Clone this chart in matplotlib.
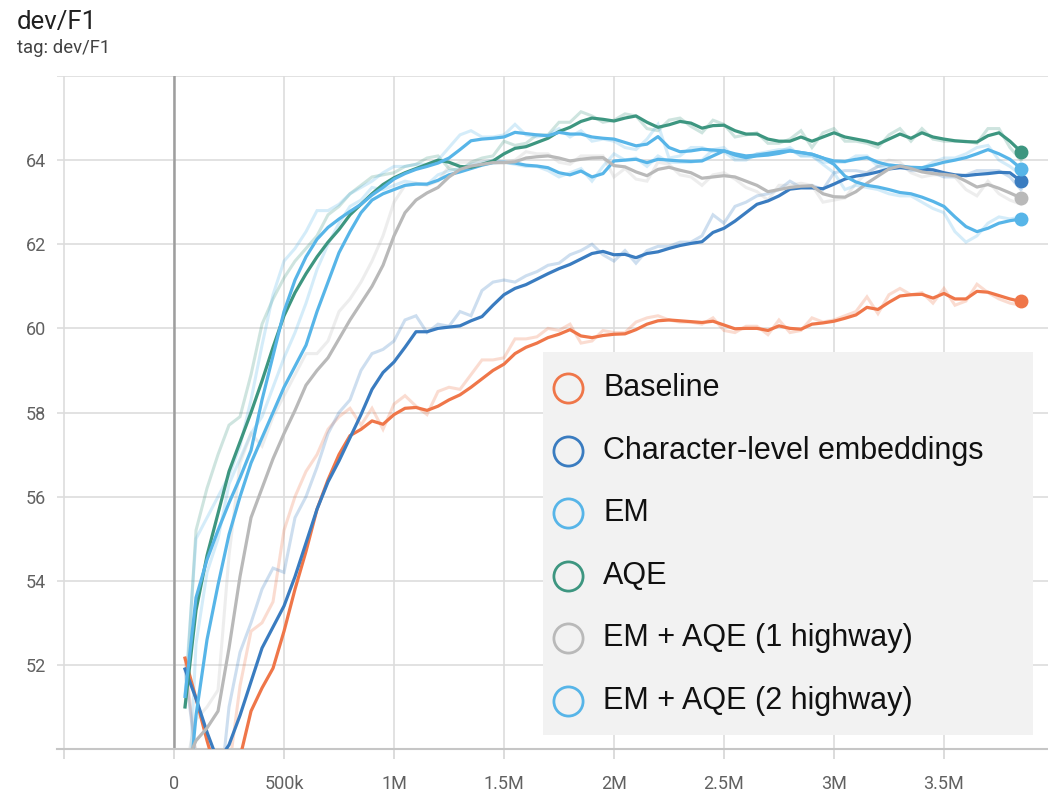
#!/usr/bin/env python3
import numpy as np
import matplotlib
matplotlib.use('Agg')
import matplotlib.pyplot as plt
from matplotlib.ticker import FuncFormatter

# %%
# training steps (every 50k) and dev/F1 values
steps = np.arange(50, 3851, 50) * 1000

baseline = [52.16, 51.2, 50.2, 49.3, 49.3, 49.8, 50.9, 51.45, 51.92, 52.8,
            53.8, 54.7, 55.7, 56.4, 57.0, 57.45, 57.6, 57.8, 57.72, 57.95,
            58.1, 58.12, 58.05, 58.15, 58.3, 58.42, 58.6, 58.8, 59.0, 59.15,
            59.4, 59.55, 59.65, 59.78, 59.86, 59.97, 59.82, 59.78, 59.83, 59.86,
            59.87, 59.97, 60.1, 60.18, 60.2, 60.18, 60.16, 60.14, 60.17, 60.08,
            59.99, 60.0, 60.0, 59.95, 60.06, 60.0, 59.98, 60.1, 60.13, 60.17,
            60.24, 60.32, 60.5, 60.45, 60.62, 60.77, 60.8, 60.81, 60.72, 60.83,
            60.7, 60.7, 60.88, 60.86, 60.78, 60.7, 60.64]
baseline_raw = [52.16, 49.8, 48.5, 47.8, 49.5, 51.5, 52.8, 53.0, 53.5, 55.2,
                56.0, 56.6, 57.0, 57.6, 57.9, 58.1, 57.7, 58.1, 57.6, 58.2,
                58.4, 58.15, 57.95, 58.5, 58.6, 58.55, 58.9, 59.25, 59.25, 59.3,
                59.75, 59.75, 59.8, 60.0, 59.95, 60.1, 59.65, 59.7, 59.95, 59.9,
                59.9, 60.15, 60.25, 60.3, 60.2, 60.15, 60.15, 60.1, 60.25, 59.95,
                59.9, 60.05, 60.05, 59.85, 60.2, 59.9, 59.95, 60.25, 60.15, 60.2,
                60.3, 60.4, 60.75, 60.35, 60.8, 60.95, 60.8, 60.85, 60.6, 60.95,
                60.55, 60.65, 61.05, 60.85, 60.7, 60.6, 60.55]

char_emb = [51.9, 51.2, 50.4, 49.7, 50.1, 50.8, 51.6, 52.4, 52.9, 53.4,
            54.1, 54.9, 55.7, 56.35, 56.85, 57.4, 57.95, 58.55, 58.95, 59.2,
            59.55, 59.92, 59.92, 60.0, 60.03, 60.06, 60.18, 60.28, 60.55, 60.8,
            60.95, 61.04, 61.17, 61.3, 61.42, 61.52, 61.65, 61.78, 61.83, 61.75,
            61.76, 61.68, 61.78, 61.82, 61.9, 61.97, 62.02, 62.06, 62.28, 62.38,
            62.55, 62.75, 62.95, 63.03, 63.15, 63.31, 63.34, 63.34, 63.32, 63.43,
            63.55, 63.62, 63.66, 63.72, 63.79, 63.82, 63.8, 63.78, 63.77, 63.7,
            63.65, 63.63, 63.66, 63.68, 63.71, 63.7, 63.5]
char_emb_raw = [51.9, 49.8, 48.8, 48.5, 51.0, 52.3, 53.0, 53.8, 54.3, 54.2,
                55.5, 56.0, 56.7, 57.5, 58.0, 58.3, 59.0, 59.4, 59.5, 59.7,
                60.2, 60.3, 59.9, 60.1, 60.05, 60.4, 60.3, 60.9, 61.1, 61.15,
                61.1, 61.25, 61.35, 61.5, 61.55, 61.75, 61.85, 62.0, 61.75, 61.6,
                61.85, 61.55, 61.85, 61.95, 61.95, 62.05, 62.05, 62.2, 62.7, 62.5,
                62.9, 63.0, 63.15, 63.2, 63.3, 63.5, 63.35, 63.4, 63.3, 63.7,
                63.75, 63.75, 63.7, 63.85, 63.9, 63.85, 63.75, 63.75, 63.7, 63.6,
                63.6, 63.65, 63.75, 63.75, 63.75, 63.6, 63.3]

em = [48.0, 50.8, 52.6, 53.9, 55.1, 56.0, 56.8, 57.4, 58.0, 58.6,
      59.1, 59.6, 60.4, 61.1, 61.8, 62.3, 62.75, 63.05, 63.2, 63.3,
      63.4, 63.43, 63.43, 63.52, 63.65, 63.72, 63.8, 63.88, 63.94, 63.95,
      63.93, 63.88, 63.86, 63.82, 63.7, 63.65, 63.74, 63.6, 63.68, 63.98,
      64.0, 64.02, 63.94, 64.02, 64.0, 63.98, 63.97, 63.98, 64.1, 64.22,
      64.15, 64.1, 64.12, 64.16, 64.2, 64.22, 64.18, 64.14, 64.05, 63.98,
      63.97, 64.02, 64.06, 63.95, 63.88, 63.86, 63.83, 63.82, 63.88, 63.95,
      64.0, 64.06, 64.15, 64.25, 64.15, 64.02, 63.8]
em_raw = [47.0, 52.5, 54.2, 55.0, 56.3, 56.9, 57.5, 57.9, 58.6, 59.3,
          59.9, 60.6, 61.4, 62.0, 62.5, 62.9, 63.05, 63.35, 63.3, 63.4,
          63.5, 63.45, 63.42, 63.65, 63.75, 63.8, 63.9, 63.95, 64.0, 63.95,
          63.9, 63.85, 63.85, 63.75, 63.6, 63.7, 63.8, 63.5, 63.85, 64.15,
          64.0, 64.05, 63.85, 64.1, 63.95, 63.95, 63.95, 64.0, 64.25, 64.3,
          64.05, 64.05, 64.15, 64.2, 64.25, 64.25, 64.1, 64.1, 63.95, 63.95,
          63.95, 64.1, 64.1, 63.85, 63.8, 63.85, 63.8, 63.8, 63.95, 64.05,
          64.05, 64.15, 64.3, 64.35, 64.0, 63.85, 63.65]

aqe = [51.0, 53.3, 54.6, 55.6, 56.6, 57.3, 58.0, 58.75, 59.55, 60.3,
       60.85, 61.3, 61.7, 62.05, 62.35, 62.7, 62.95, 63.2, 63.42, 63.58,
       63.7, 63.8, 63.9, 64.0, 63.95, 63.85, 63.83, 63.9, 63.98, 64.15,
       64.28, 64.32, 64.42, 64.52, 64.68, 64.78, 64.92, 65.0, 64.97, 64.93,
       65.0, 65.05, 64.9, 64.78, 64.84, 64.92, 64.88, 64.76, 64.82, 64.83,
       64.7, 64.62, 64.62, 64.5, 64.45, 64.45, 64.55, 64.45, 64.55, 64.65,
       64.55, 64.5, 64.45, 64.38, 64.5, 64.62, 64.52, 64.65, 64.55, 64.5,
       64.46, 64.44, 64.43, 64.58, 64.65, 64.45, 64.2]
aqe_raw = [51.0, 55.2, 56.2, 57.0, 57.7, 57.9, 58.9, 60.1, 60.7, 61.2,
           61.6, 61.9, 62.2, 62.7, 62.9, 63.2, 63.4, 63.6, 63.65, 63.7,
           63.85, 63.9, 64.05, 64.1, 63.8, 63.75, 63.95, 64.05, 64.1, 64.45,
           64.35, 64.4, 64.6, 64.6, 64.9, 64.9, 65.15, 65.05, 64.9, 64.95,
           65.1, 65.05, 64.75, 64.7, 64.95, 65.0, 64.8, 64.65, 64.95, 64.85,
           64.55, 64.6, 64.65, 64.4, 64.4, 64.5, 64.7, 64.3, 64.65, 64.75,
           64.45, 64.45, 64.4, 64.3, 64.6, 64.75, 64.45, 64.75, 64.5, 64.45,
           64.45, 64.45, 64.4, 64.75, 64.75, 64.3, 64.0]

em_aqe_1hw = [49.6, 50.2, 50.5, 50.9, 52.4, 54.1, 55.5, 56.2, 56.9, 57.5,
              58.05, 58.65, 59.0, 59.3, 59.75, 60.2, 60.6, 61.0, 61.5, 62.2,
              62.75, 63.05, 63.22, 63.35, 63.6, 63.78, 63.86, 63.9, 63.94, 63.94,
              63.96, 64.05, 64.08, 64.1, 64.05, 63.98, 64.02, 64.05, 64.06, 63.87,
              63.84, 63.72, 63.63, 63.78, 63.83, 63.76, 63.7, 63.57, 63.6, 63.63,
              63.6, 63.5, 63.4, 63.25, 63.3, 63.35, 63.38, 63.39, 63.2, 63.13,
              63.12, 63.25, 63.45, 63.62, 63.79, 63.86, 63.8, 63.72, 63.68, 63.66,
              63.63, 63.5, 63.36, 63.42, 63.33, 63.22, 63.1]
em_aqe_1hw_raw = [49.5, 50.7, 51.0, 51.4, 54.6, 56.8, 57.5, 57.2, 57.9, 58.4,
                  58.9, 59.4, 59.4, 59.7, 60.4, 60.7, 61.1, 61.6, 62.2, 63.0,
                  63.4, 63.45, 63.4, 63.5, 63.85, 63.95, 63.95, 63.95, 64.0, 63.95,
                  64.0, 64.2, 64.15, 64.15, 63.95, 63.9, 64.1, 64.1, 64.1, 63.6,
                  63.8, 63.55, 63.5, 63.95, 63.9, 63.65, 63.6, 63.4, 63.65, 63.7,
                  63.55, 63.35, 63.25, 63.05, 63.4, 63.4, 63.45, 63.4, 63.0, 63.05,
                  63.1, 63.45, 63.7, 63.85, 64.0, 63.95, 63.7, 63.6, 63.65, 63.65,
                  63.6, 63.3, 63.15, 63.5, 63.2, 63.05, 62.95]

em_aqe_2hw = [51.25, 53.6, 54.5, 55.2, 55.85, 56.45, 57.1, 58.3, 59.35, 60.4,
              61.15, 61.7, 62.12, 62.4, 62.6, 62.78, 62.95, 63.17, 63.35, 63.55,
              63.68, 63.78, 63.85, 63.93, 64.05, 64.25, 64.46, 64.5, 64.52, 64.55,
              64.66, 64.63, 64.6, 64.58, 64.66, 64.62, 64.62, 64.55, 64.52, 64.5,
              64.42, 64.34, 64.38, 64.56, 64.3, 64.2, 64.22, 64.26, 64.24, 64.22,
              64.12, 64.06, 64.1, 64.12, 64.16, 64.22, 64.18, 64.14, 64.05, 63.9,
              63.62, 63.48, 63.4, 63.36, 63.3, 63.23, 63.2, 63.12, 63.02, 62.9,
              62.65, 62.42, 62.3, 62.38, 62.5, 62.56, 62.6]
em_aqe_2hw_raw = [51.3, 55.0, 55.5, 56.0, 56.5, 57.2, 58.3, 59.6, 60.8, 61.6,
                  61.9, 62.3, 62.8, 62.8, 62.95, 63.2, 63.35, 63.5, 63.7, 63.85,
                  63.85, 63.9, 63.9, 64.0, 64.3, 64.6, 64.7, 64.55, 64.55, 64.6,
                  64.85, 64.6, 64.55, 64.6, 64.75, 64.55, 64.7, 64.45, 64.5, 64.45,
                  64.3, 64.25, 64.5, 64.85, 64.05, 64.1, 64.3, 64.3, 64.2, 64.2,
                  64.0, 64.0, 64.15, 64.15, 64.2, 64.3, 64.1, 64.1, 63.9, 63.7,
                  63.3, 63.4, 63.35, 63.3, 63.2, 63.15, 63.15, 63.0, 62.85, 62.75,
                  62.3, 62.05, 62.2, 62.5, 62.65, 62.6, 62.65]

labels = ['Baseline', 'Character-level embeddings', 'EM', 'AQE',
          'EM + AQE (1 highway)', 'EM + AQE (2 highway)']
colors = ['#ef7649', '#3a7cc0', '#57b5e8', '#3d9680', '#b9b9b9', '#57b5e8']
smoothed = [baseline, char_emb, em, aqe, em_aqe_1hw, em_aqe_2hw]
raw = [baseline_raw, char_emb_raw, em_raw, aqe_raw, em_aqe_1hw_raw, em_aqe_2hw_raw]


# %%
W, H = 1048, 793
fig = plt.figure(figsize=(W / 100, H / 100), dpi=100)
fig.patch.set_facecolor('white')

fig.text(17 / W, 1 - 29 / H, 'dev/F1', family='Roboto', fontsize=18.5,
         color='#212121', va='baseline')
fig.text(17 / W, 1 - 53 / H, 'tag: dev/F1', family='Roboto', fontsize=13.3,
         color='#424242', va='baseline')

ax = fig.add_axes([57 / W, 44 / H, 991 / W, 673 / H])
ax.set_xlim(-532000, 3973000)
ax.set_ylim(50, 66)

for r, c in zip(raw, colors):
    ax.plot(steps, r, color=c, lw=2.2, alpha=0.25, solid_joinstyle='miter', zorder=2)
for s, c in zip(smoothed, colors):
    ax.plot(steps, s, color=c, lw=2.3, zorder=3)
    ax.plot(steps[-1], s[-1], 'o', ms=9, color=c, zorder=4, clip_on=False)

ax.axvline(0, color='#9e9e9e', lw=1.8, zorder=1)

ax.set_xticks(np.arange(-500000, 3600000, 500000))
ax.set_yticks(np.arange(50, 67, 2))


def xfmt(x, p):
    if x < 0:
        return ''
    if x == 0:
        return '0'
    if x < 1e6:
        return '%dk' % (x / 1000)
    return ('%g' % (x / 1e6)) + 'M'


ax.xaxis.set_major_formatter(FuncFormatter(xfmt))
ax.yaxis.set_major_formatter(FuncFormatter(lambda y, p: '' if y in (50, 66) else '%d' % y))
ax.grid(True, color='#dddddd', lw=1.2, zorder=0)
ax.set_axisbelow(True)
for side in ['top', 'left', 'right']:
    ax.spines[side].set_visible(False)
ax.spines['bottom'].set_color('#c6c6c6')
ax.spines['bottom'].set_linewidth(1.5)
ax.tick_params(axis='x', length=7, color='#d6d6d6', width=1.2, pad=12,
               labelsize=13, labelcolor='#616161')
ax.tick_params(axis='y', length=0, pad=8, labelsize=13, labelcolor='#616161')
for t in ax.get_xticklabels() + ax.get_yticklabels():
    t.set_family('Roboto')

# legend box drawn as its own panel
lg = fig.add_axes([543 / W, 1 - 735 / H, 490 / W, 383 / H])
lg.set_facecolor('#f2f2f2')
lg.set_xlim(0, 490)
lg.set_ylim(383, 0)
lg.set_xticks([])
lg.set_yticks([])
for sp in lg.spines.values():
    sp.set_visible(False)
for i, (lab, c) in enumerate(zip(labels, colors)):
    yy = 36 + i * 62.6
    lg.plot(25, yy, 'o', ms=21, mfc='none', mec=c, mew=2.0)
    lg.text(60, yy, lab, family='Liberation Sans', fontsize=22,
            color='#111111', va='center', ha='left')

plt.savefig('out.png', dpi=100)
plt.close()
